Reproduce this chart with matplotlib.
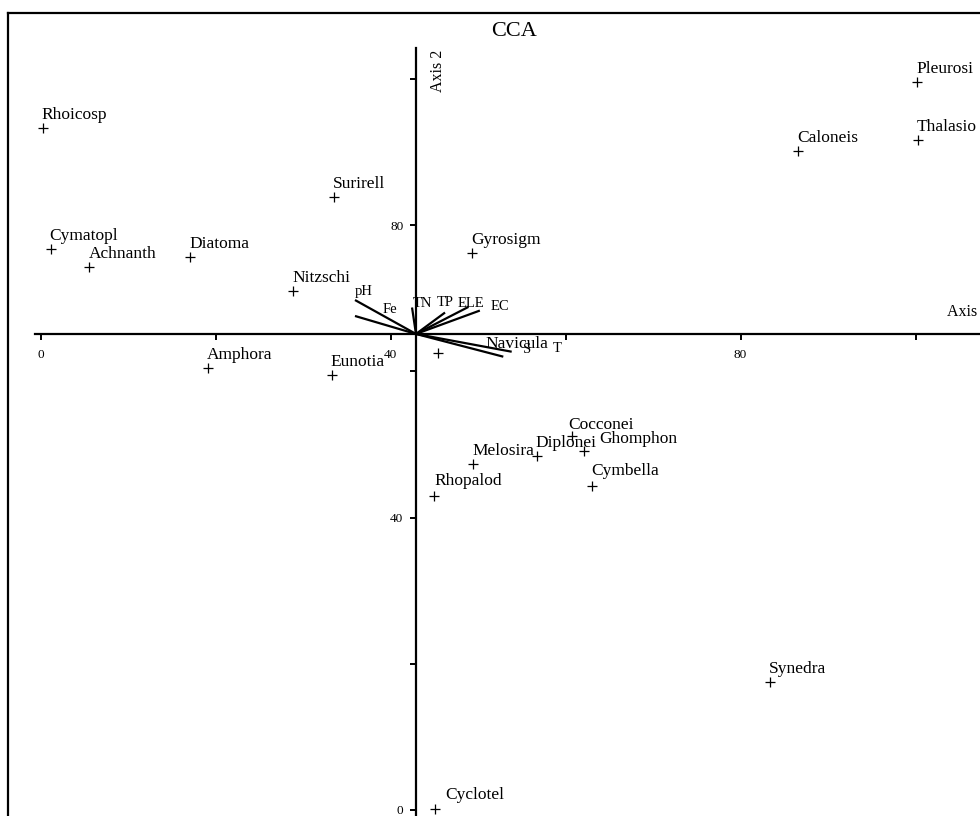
import matplotlib
matplotlib.use("Agg")
import matplotlib.pyplot as plt
from matplotlib.lines import Line2D

plt.rcParams['font.family'] = ['Liberation Serif', 'DejaVu Serif']

# species scores
species = ["Rhoicosp", "Cymatopl", "Achnanth", "Diatoma", "Surirell", "Nitzschi",
           "Gyrosigm", "Amphora", "Eunotia", "Navicula", "Melosira", "Rhopalod",
           "Diplonei", "Cocconei", "Ghomphon", "Cymbella", "Synedra", "Cyclotel",
           "Caloneis", "Pleurosi", "Thalasio"]
sp_x = [0.24, 1.15, 5.57, 17.07, 33.53, 28.88, 49.30, 19.13, 33.27, 45.42, 49.42,
        44.96, 56.70, 60.70, 62.10, 62.98, 83.36, 45.07, 86.56, 100.19, 100.27]
sp_y = [93.22, 76.72, 74.30, 75.67, 83.83, 70.97, 76.17, 60.44, 59.49, 62.50, 47.32,
        42.94, 48.45, 51.15, 49.13, 44.31, 17.46, 0.14, 90.16, 99.60, 91.60]

# environmental vectors (end points)
env = ["pH", "Fe", "TN", "TP", "ELE", "EC", "S", "T"]
env_x = [35.93, 35.93, 42.45, 46.22, 48.9, 50.2, 52.88, 53.84]
env_y = [69.74, 67.56, 68.72, 68.03, 68.8, 68.3, 61.99, 62.67]

# centre where the axes cross
x0, y0 = 42.9, 65.1

ticks = [0, 20, 40, 60, 80, 100]
tick_labels = ["0", "", "40", "", "80", ""]

# label offsets (pixels) that differ from the default
sp_off = {"Ghomphon": (15, 8), "Navicula": (47, 5), "Cocconei": (-3, 7),
          "Cyclotel": (10, 10), "Rhopalod": (0, 11), "Cymbella": (0, 11)}
env_off = {"pH": (0, 5), "Fe": (28, 3), "TN": (1, 0), "TP": (-8, 7),
           "ELE": (-11, 0), "EC": (11, 1), "S": (20, 4), "T": (41, 0)}

W, H = 980, 816
fig = plt.figure(figsize=(W / 100, H / 100), dpi=100)
ax = fig.add_axes([0, 0, 1, 1])

# pixel mapping: x = 40.6 + 8.75*u, y = 810 - 7.3125*v
ax.set_xlim(-40.6 / 8.75, (W - 40.6) / 8.75)
ax.set_ylim((810 - H) / 7.3125, 810 / 7.3125)

for s in ["top", "right"]:
    ax.spines[s].set_visible(False)
ax.spines["left"].set_position(("data", x0))
ax.spines["bottom"].set_position(("data", y0))
ax.spines["left"].set_bounds(-1, 104.2)
ax.spines["bottom"].set_bounds(-0.6, 110)
for s in ["left", "bottom"]:
    ax.spines[s].set_linewidth(1.6)

ax.set_xticks(ticks)
ax.set_xticklabels(tick_labels)
ax.set_yticks(ticks)
ax.set_yticklabels(tick_labels)
ax.tick_params(axis="both", direction="out", length=4, width=1.4, labelsize=9.5)
ax.tick_params(axis="x", pad=7)
ax.tick_params(axis="y", pad=5)

# environmental vectors
for name, ex, ey in zip(env, env_x, env_y):
    ax.plot([x0, ex], [y0, ey], color="black", lw=1.6, solid_capstyle="butt")
    dx, dy = env_off[name]
    ax.annotate(name, (ex, ey), xytext=(dx, dy), textcoords="offset pixels",
                ha="left", va="baseline", fontsize=10.5)

# species points
ax.plot(sp_x, sp_y, linestyle="none", marker="+", markersize=7.5,
        markeredgewidth=0.9, color="black")
for name, sx, sy in zip(species, sp_x, sp_y):
    dx, dy = sp_off.get(name, (-1, 9))
    ax.annotate(name, (sx, sy), xytext=(dx, dy), textcoords="offset pixels",
                ha="left", va="baseline", fontsize=12.5)

# axis names
ax.annotate("Axis 2", (x0, 104.2), xytext=(14, -2), textcoords="offset pixels",
            rotation=90, ha="left", va="top", fontsize=11.5)
ax.annotate("Axis 1", (107.36, y0), xytext=(-33, 14), textcoords="offset pixels",
            ha="left", va="bottom", fontsize=11.5, annotation_clip=False)

fig.text(514 / W, 1 - 32 / H, "CCA", ha="center", va="center", fontsize=16)

# outer frame (left and top edges)
fig.add_artist(Line2D([8 / W, 8 / W], [-0.05, 1 - 13 / H], color="black", lw=1.6,
                      transform=fig.transFigure))
fig.add_artist(Line2D([8 / W, 1.05], [1 - 13 / H, 1 - 13 / H], color="black", lw=1.6,
                      transform=fig.transFigure))

fig.savefig("out.png", dpi=100)
